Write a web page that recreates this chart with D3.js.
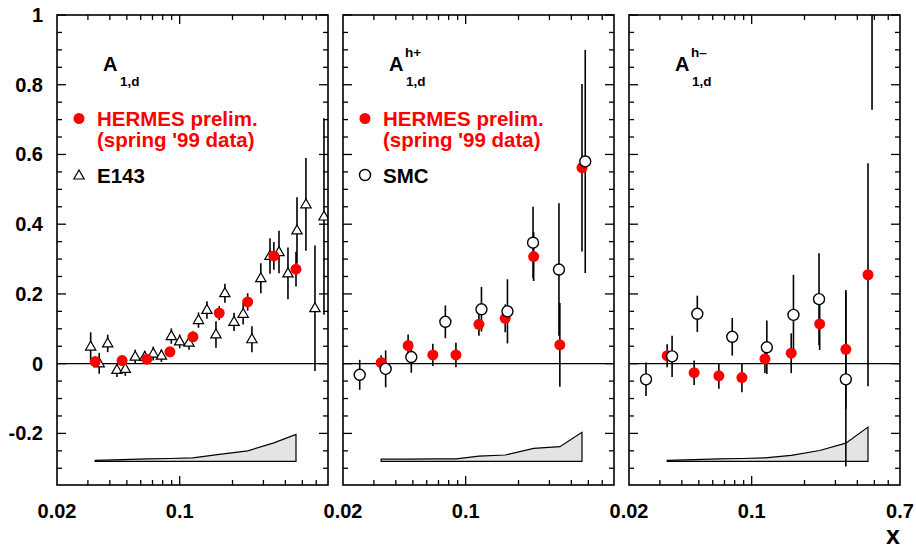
<!DOCTYPE html>
<html>
<head>
<meta charset="utf-8">
<script src="https://cdn.jsdelivr.net/npm/d3@7"></script>
<style>
body { margin: 0; background: #fff; }
text { font-family: "Liberation Sans", Arial, sans-serif; font-weight: bold; }
</style>
</head>
<body>
<script>
// HERMES preliminary points (same x bins in every panel)
var hermes_x = [0.033, 0.047, 0.065, 0.088, 0.119, 0.168, 0.244, 0.344, 0.46]

var a1d_y   = [0.006, 0.009, 0.013, 0.034, 0.077, 0.145, 0.177, 0.309, 0.271]
var a1d_err = [0.010, 0.010, 0.012, 0.012, 0.015, 0.020, 0.025, 0.040, 0.050]
var a1d_sys = [0.003, 0.005, 0.007, 0.008, 0.010, 0.020, 0.030, 0.053, 0.077]

var hplus_y   = [0.003, 0.052, 0.025, 0.025, 0.113, 0.130, 0.307, 0.054, 0.562]
var hplus_err = [0.021, 0.032, 0.032, 0.035, 0.033, 0.040, 0.070, 0.120, 0.240]
var hplus_sys = [0.006, 0.006, 0.007, 0.007, 0.015, 0.018, 0.037, 0.042, 0.083]

var hminus_y   = [0.023, -0.026, -0.035, -0.040, 0.0135, 0.030, 0.114, 0.041, 0.255]
var hminus_err = [0.033, 0.035, 0.037, 0.042, 0.040, 0.057, 0.075, 0.170, 0.320]
var hminus_sys = [0.003, 0.005, 0.007, 0.008, 0.010, 0.017, 0.031, 0.052, 0.098]

// E143 A1d
var e143_x = [0.0311, 0.0348, 0.0389, 0.0439, 0.049, 0.0558, 0.0632, 0.0707, 0.0787, 0.0896,
              0.100, 0.113, 0.128, 0.143, 0.161, 0.181, 0.204, 0.23, 0.258, 0.29,
              0.327, 0.368, 0.414, 0.466, 0.524, 0.59, 0.664]
var e143_y = [0.049, 0.001, 0.058, -0.018, -0.015, 0.020, 0.019, 0.029, 0.023, 0.079,
              0.064, 0.060, 0.125, 0.154, 0.084, 0.202, 0.120, 0.143, 0.070, 0.245,
              0.309, 0.320, 0.259, 0.382, 0.457, 0.159, 0.422]
var e143_err = [0.041, 0.030, 0.025, 0.020, 0.020, 0.020, 0.018, 0.020, 0.018, 0.022,
                0.020, 0.020, 0.022, 0.025, 0.038, 0.027, 0.026, 0.031, 0.037, 0.043,
                0.051, 0.061, 0.074, 0.095, 0.133, 0.180, 0.282]

// SMC semi-inclusive
var smc_plus_x   = [0.0249, 0.035, 0.049, 0.0766, 0.123, 0.173, 0.242, 0.34, 0.48]
var smc_plus_y   = [-0.032, -0.015, 0.019, 0.120, 0.156, 0.150, 0.347, 0.270, 0.580]
var smc_plus_err = [0.043, 0.053, 0.045, 0.047, 0.064, 0.092, 0.103, 0.190, 0.320]

var smc_minus_x   = [0.025, 0.0352, 0.049, 0.0775, 0.122, 0.173, 0.242, 0.344, 0.485]
var smc_minus_y   = [-0.045, 0.021, 0.143, 0.077, 0.047, 0.140, 0.185, -0.045, 1.10]
var smc_minus_err = [0.048, 0.059, 0.052, 0.054, 0.077, 0.115, 0.132, 0.250, 0.372]

var x_ticks_major = [0.1]
var x_ticks_minor = [0.03, 0.04, 0.05, 0.06, 0.07, 0.08, 0.09, 0.2, 0.3, 0.4, 0.5, 0.6]
var y_tick_labels = ["-0.2", "0", "0.2", "0.4", "0.6", "0.8", "1"]
var sys_base = -0.28

function pts(xs, ys, es) {
    return xs.map((x, i) => ({x: x, y: ys[i], e: es[i]}))
}

var panels = [
    {left: 57, sup: "", sub: "1,d", other: "E143", marker: "triangle",
     hermes: pts(hermes_x, a1d_y, a1d_err), sys: a1d_sys,
     ref: pts(e143_x, e143_y, e143_err)},
    {left: 343, sup: "h+", sub: "1,d", other: "SMC", marker: "circle",
     hermes: pts(hermes_x, hplus_y, hplus_err), sys: hplus_sys,
     ref: pts(smc_plus_x, smc_plus_y, smc_plus_err)},
    {left: 629, sup: "h\u2013", sub: "1,d", other: null, marker: "circle",
     hermes: pts(hermes_x, hminus_y, hminus_err), sys: hminus_sys,
     ref: pts(smc_minus_x, smc_minus_y, smc_minus_err)}
]

var w = 916
var h = 551
var pw = 271
var top_y = 15
var bot_y = 485

var svg = d3.select("body")
            .append("svg")
            .attr("width", w)
            .attr("height", h)

var y_scale = d3.scaleLinear()
            .domain([-0.348, 1])
            .range([bot_y, top_y])

var tri = d3.symbol().type(d3.symbolTriangle).size(46)

panels.forEach(function(p, k) {
    var x_scale = d3.scaleLog()
                .domain([0.02, 0.7])
                .range([p.left, p.left + pw])

    var g = svg.append("g")

    g.append("clipPath")
        .attr("id", "clip" + k)
        .append("rect")
        .attr("x", p.left)
        .attr("y", top_y)
        .attr("width", pw)
        .attr("height", bot_y - top_y)

    // zero line
    g.append("line")
        .attr("x1", p.left).attr("x2", p.left + pw)
        .attr("y1", y_scale(0)).attr("y2", y_scale(0))
        .attr("stroke", "black")
        .attr("stroke-width", 1.3)

    // systematic band
    var band = d3.area()
                .x((d, i) => x_scale(hermes_x[i]))
                .y0(y_scale(sys_base))
                .y1(d => y_scale(sys_base + d))
    g.append("path")
        .datum(p.sys)
        .attr("d", band)
        .attr("fill", "#e4e4e4")
        .attr("stroke", "black")
        .attr("stroke-width", 1.2)

    var data_g = g.append("g").attr("clip-path", "url(#clip" + k + ")")

    // error bars
    data_g.selectAll(".ebar_ref")
        .data(p.ref)
        .enter()
        .append("line")
        .attr("x1", d => x_scale(d.x)).attr("x2", d => x_scale(d.x))
        .attr("y1", d => y_scale(d.y - d.e)).attr("y2", d => y_scale(d.y + d.e))
        .attr("stroke", "black")
        .attr("stroke-width", 1.6)

    data_g.selectAll(".ebar_hermes")
        .data(p.hermes)
        .enter()
        .append("line")
        .attr("x1", d => x_scale(d.x)).attr("x2", d => x_scale(d.x))
        .attr("y1", d => y_scale(d.y - d.e)).attr("y2", d => y_scale(d.y + d.e))
        .attr("stroke", "black")
        .attr("stroke-width", 1.6)

    function draw_ref() {
        if (p.marker === "triangle") {
            data_g.selectAll(".ref")
                .data(p.ref)
                .enter()
                .append("path")
                .attr("d", tri)
                .attr("transform", d => "translate(" + x_scale(d.x) + "," + (y_scale(d.y) + 0.5) + ")")
                .attr("fill", "white")
                .attr("stroke", "black")
                .attr("stroke-width", 1.2)
        } else {
            data_g.selectAll(".ref")
                .data(p.ref)
                .enter()
                .append("circle")
                .attr("cx", d => x_scale(d.x))
                .attr("cy", d => y_scale(d.y))
                .attr("r", 5.5)
                .attr("fill", "white")
                .attr("stroke", "black")
                .attr("stroke-width", 1.4)
        }
    }

    function draw_hermes() {
        data_g.selectAll(".hermes")
            .data(p.hermes)
            .enter()
            .append("circle")
            .attr("cx", d => x_scale(d.x))
            .attr("cy", d => y_scale(d.y))
            .attr("r", 5.5)
            .attr("fill", "#ff0000")
    }

    if (p.marker === "triangle") { draw_ref(); draw_hermes() }
    else { draw_hermes(); draw_ref() }

    // frame
    g.append("rect")
        .attr("x", p.left).attr("y", top_y)
        .attr("width", pw).attr("height", bot_y - top_y)
        .attr("fill", "none")
        .attr("stroke", "black")
        .attr("stroke-width", 1.6)

    // x ticks, inward on bottom and top
    var xt = x_ticks_major.map(v => ({v: v, len: 9})).concat(x_ticks_minor.map(v => ({v: v, len: 5})))
    g.selectAll(".xtb")
        .data(xt)
        .enter()
        .append("line")
        .attr("x1", d => x_scale(d.v)).attr("x2", d => x_scale(d.v))
        .attr("y1", bot_y).attr("y2", d => bot_y - d.len)
        .attr("stroke", "black").attr("stroke-width", 1.3)
    g.selectAll(".xtt")
        .data(xt)
        .enter()
        .append("line")
        .attr("x1", d => x_scale(d.v)).attr("x2", d => x_scale(d.v))
        .attr("y1", top_y).attr("y2", d => top_y + d.len)
        .attr("stroke", "black").attr("stroke-width", 1.3)

    // y ticks, every 0.05, major every 0.2
    var yt = d3.range(-6, 21).map(function(j) {
        return {v: j * 0.05, len: (j % 4 === 0) ? 9 : 5}
    })
    g.selectAll(".ytl")
        .data(yt)
        .enter()
        .append("line")
        .attr("x1", p.left).attr("x2", d => p.left + d.len)
        .attr("y1", d => y_scale(d.v)).attr("y2", d => y_scale(d.v))
        .attr("stroke", "black").attr("stroke-width", 1.3)
    g.selectAll(".ytr")
        .data(yt)
        .enter()
        .append("line")
        .attr("x1", p.left + pw).attr("x2", d => p.left + pw - d.len)
        .attr("y1", d => y_scale(d.v)).attr("y2", d => y_scale(d.v))
        .attr("stroke", "black").attr("stroke-width", 1.3)

    // x tick labels (0.7 only on the last pad, the next pad covers it)
    var xl = [0.02, 0.1]
    if (k === panels.length - 1) xl.push(0.7)
    g.selectAll(".xlab")
        .data(xl)
        .enter()
        .append("text")
        .attr("x", d => x_scale(d))
        .attr("y", 518)
        .attr("text-anchor", "middle")
        .attr("font-size", 20)
        .text(d => d)

    // observable label
    var lx = p.left + 46
    g.append("text")
        .attr("x", lx).attr("y", 71)
        .attr("font-size", 20)
        .text("A")
    g.append("text")
        .attr("x", lx + 17).attr("y", 86)
        .attr("font-size", 13.5)
        .text(p.sub)
    if (p.sup) {
        g.append("text")
            .attr("x", lx + 16).attr("y", 57)
            .attr("font-size", 13.5)
            .text(p.sup)
    }

    // legend
    if (p.other) {
        var mx = p.left + 22
        g.append("circle")
            .attr("cx", mx).attr("cy", 118.5)
            .attr("r", 5.5)
            .attr("fill", "#ff0000")
        g.append("text")
            .attr("x", p.left + 40).attr("y", 126)
            .attr("font-size", 20.5)
            .attr("fill", "#ff0000")
            .text("HERMES prelim.")
        g.append("text")
            .attr("x", p.left + 40).attr("y", 147)
            .attr("font-size", 20.5)
            .attr("fill", "#ff0000")
            .text("(spring '99 data)")
        if (p.marker === "triangle") {
            g.append("path")
                .attr("d", tri)
                .attr("transform", "translate(" + mx + ",176)")
                .attr("fill", "white")
                .attr("stroke", "black")
                .attr("stroke-width", 1.2)
        } else {
            g.append("circle")
                .attr("cx", mx).attr("cy", 175)
                .attr("r", 5.5)
                .attr("fill", "white")
                .attr("stroke", "black")
                .attr("stroke-width", 1.4)
        }
        g.append("text")
            .attr("x", p.left + 40).attr("y", 182.5)
            .attr("font-size", 20.5)
            .text(p.other)
    }
})

// y labels on the first pad only
svg.selectAll(".ylab")
    .data(y_tick_labels)
    .enter()
    .append("text")
    .attr("x", 43)
    .attr("y", d => y_scale(+d) + 7)
    .attr("text-anchor", "end")
    .attr("font-size", 20)
    .text(d => d)

svg.append("text")
    .attr("x", 900)
    .attr("y", 544)
    .attr("text-anchor", "end")
    .attr("font-size", 25)
    .text("x")
</script>
</body>
</html>
